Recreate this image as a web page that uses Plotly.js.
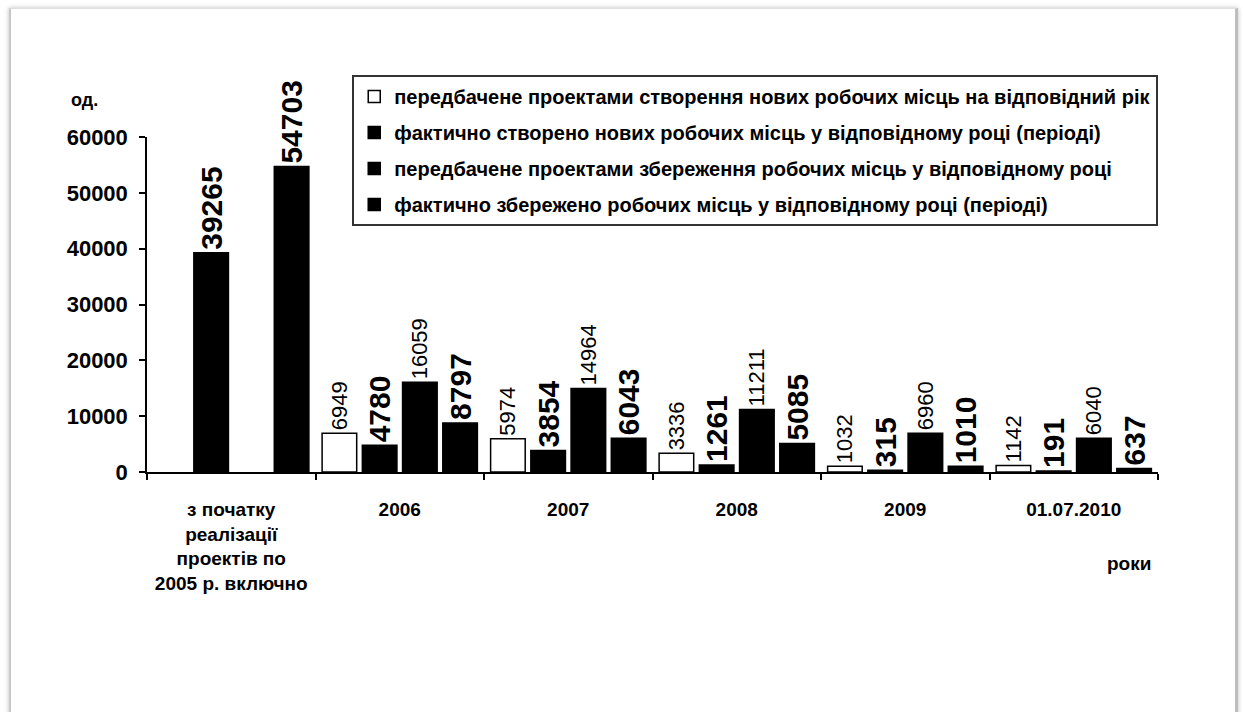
<!DOCTYPE html>
<html>
<head>
<meta charset="utf-8">
<script src="https://cdn.plot.ly/plotly-3.0.1.min.js"></script>
<style>
  html, body { margin: 0; padding: 0; background: #ffffff; width: 1243px; height: 712px; overflow: hidden; }
  #frame { position: absolute; left: 9px; top: 8px; width: 1224px; height: 720px;
           border-left: 2px solid #c8c8c8; border-top: 1px solid #e0e0e0; border-right: 3px solid #bdbdbd;
           box-shadow: 0 0 5px rgba(0,0,0,0.25); background: #ffffff; }
  #chart { position: absolute; left: 0; top: 0; width: 1243px; height: 712px; }
</style>
</head>
<body>
<div id="frame"></div>
<div id="chart"></div>
<script>
const categories = ['з початку<br>реалізації<br>проектів по<br>2005 р. включно', '2006', '2007', '2008', '2009', '01.07.2010'];
const plannedNew   = [null, 6949, 5974, 3336, 1032, 1142];
const actualNew    = [39265, 4780, 3854, 1261, 315, 191];
const plannedSaved = [null, 16059, 14964, 11211, 6960, 6040];
const actualSaved  = [54703, 8797, 6043, 5085, 1010, 637];
const seriesNames = [
  'передбачене проектами створення нових робочих місць на відповідний рік',
  'фактично створено нових робочих місць у відповідному році (періоді)',
  'передбачене проектами збереження робочих місць у відповідному році',
  'фактично збережено робочих місць у відповідному році (періоді)'
];
const yTicks = [0, 10000, 20000, 30000, 40000, 50000, 60000];

const FONT = 'Liberation Sans, Arial, sans-serif';
const labelText = arr => arr.map(v => (v === null ? '' : String(v)));

function barTrace(values, name, idx, fill, bold) {
  return {
    type: 'bar',
    x: categories,
    y: values,
    name: name,
    legendgroup: 'g' + idx,
    text: labelText(values),
    textposition: 'outside',
    textangle: -90,
    constraintext: 'none',
    cliponaxis: false,
    textfont: bold ? { family: FONT, size: 30, color: '#000', weight: 'bold' }
                   : { family: FONT, size: 22, color: '#000' },
    marker: { color: fill, line: { color: '#000', width: 1.5 } },
    hoverinfo: 'x+y+name'
  };
}

const data = [
  barTrace(plannedNew, seriesNames[0], 1, '#ffffff', false),
  barTrace(actualNew, seriesNames[1], 2, '#000000', true),
  barTrace(plannedSaved, seriesNames[2], 3, '#000000', false),
  barTrace(actualSaved, seriesNames[3], 4, '#000000', true)
];

const layout = {
  width: 1243,
  height: 712,
  margin: { l: 147, r: 85, t: 137, b: 240 },
  paper_bgcolor: 'rgba(0,0,0,0)',
  plot_bgcolor: 'rgba(0,0,0,0)',
  font: { family: FONT, color: '#000' },
  barmode: 'group',
  bargap: 0.045,
  bargroupgap: 0.14,
  showlegend: true,
  legend: {
    x: 0.203, y: 1.185, xanchor: 'left', yanchor: 'top',
    bgcolor: '#ffffff', bordercolor: '#333333', borderwidth: 2,
    font: { family: FONT, size: 20, color: '#000', weight: 'bold' },
    traceorder: 'grouped', tracegroupgap: 7,
    itemwidth: 30
  },
  xaxis: {
    type: 'category',
    showline: true, linecolor: '#000', linewidth: 2,
    ticks: 'outside', tickson: 'boundaries', ticklen: 6, tickcolor: '#000', tickwidth: 1.5,
    tickfont: { family: FONT, size: 19, color: '#000', weight: 'bold' },
    ticklabelstandoff: 19,
    showgrid: false, zeroline: false, fixedrange: true
  },
  yaxis: {
    range: [0, 60000],
    tickvals: yTicks,
    ticktext: yTicks.map(String),
    showline: true, linecolor: '#000', linewidth: 1.5,
    ticks: 'outside', ticklen: 6, tickcolor: '#000', tickwidth: 1.5,
    tickfont: { family: FONT, size: 22, color: '#000', weight: 'bold' },
    ticklabelstandoff: 7,
    showgrid: false, zeroline: false, fixedrange: true
  },
  annotations: [
    { text: 'од.', xref: 'paper', yref: 'paper', x: -0.062, y: 1.11, xanchor: 'center', yanchor: 'middle',
      showarrow: false, font: { family: FONT, size: 18, color: '#000', weight: 'bold' } },
    { text: 'роки', xref: 'paper', yref: 'paper', x: 0.971, y: -0.272, xanchor: 'center', yanchor: 'middle',
      showarrow: false, font: { family: FONT, size: 19, color: '#000', weight: 'bold' } }
  ]
};

Plotly.newPlot('chart', data, layout, { displayModeBar: false, staticPlot: false });
</script>
</body>
</html>
